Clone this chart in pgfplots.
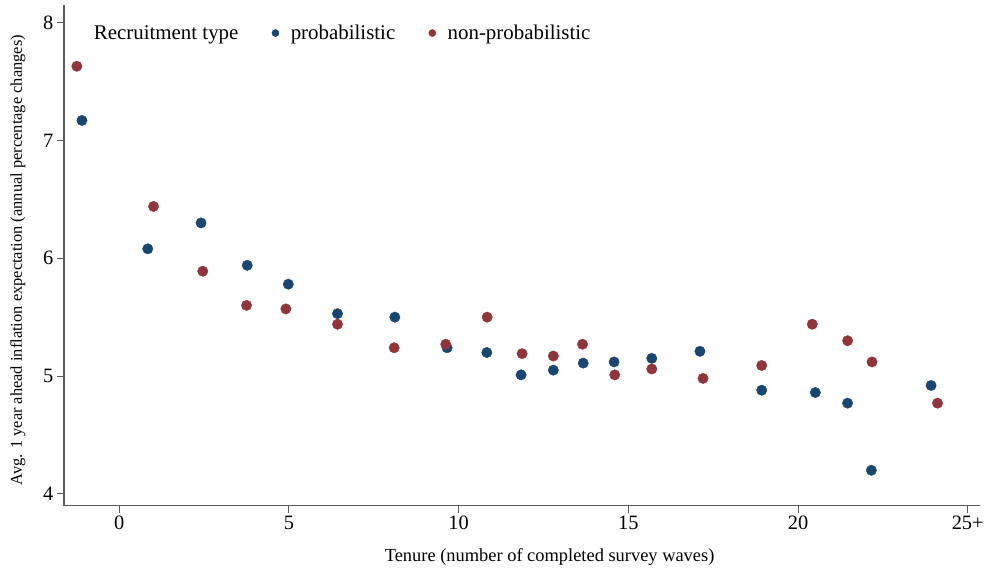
\documentclass[border=0pt]{standalone}
\usepackage{fontspec}
\setmainfont{Liberation Serif}
\usepackage{pgfplots}
\pgfplotsset{compat=1.18}
\definecolor{probblue}{HTML}{1A476F}
\definecolor{nonprobred}{HTML}{90353B}
\definecolor{axgray}{HTML}{5A5A5A}

% tenure (jittered), avg. 1y-ahead expectation
\begin{document}
\begin{tikzpicture}
\begin{axis}[
    scale only axis,
    width=917bp, height=501bp,
    xmin=-1.63, xmax=25.37,
    ymin=3.90, ymax=8.15,
    clip=false,
    axis x line*=bottom, axis y line*=left,
    axis line style={axgray, line width=1.1bp},
    tick align=outside,
    major tick length=7bp,
    tick style={axgray, line width=1bp},
    xtick={0,5,10,15,20,25},
    xticklabels={0,5,10,15,20,25+},
    ytick={4,5,6,7,8},
    /pgf/number format/assume math mode=true,
    ticklabel style={font=\fontsize{20.5}{22}\selectfont},
    xlabel={Tenure (number of completed survey waves)},
    ylabel={Avg. 1 year ahead inflation expectation (annual percentage changes)},
    xlabel style={font=\fontsize{18.5}{20}\selectfont,
        at={(axis description cs:0.53,-0.102)}, anchor=center},
    ylabel style={font=\fontsize{16.5}{18}\selectfont,
        at={(axis description cs:-0.0502,0.49)}, anchor=center},
    legend columns=3,
    legend style={draw=none, fill=none,
        at={(axis description cs:0.027,0.944)}, anchor=west,
        font=\fontsize{21}{23}\selectfont,
        /tikz/every even column/.append style={column sep=28bp}},
    legend image code/.code={
        \path[draw=none] (0cm,0cm) -- (0.72cm,0cm);
        \path[#1, draw=none, mark size=3.6bp] plot coordinates {(0.25cm,0cm)};},
]
\addlegendimage{empty legend}
\addlegendentry{Recruitment type}

\addplot[only marks, mark=*, mark size=5.2bp,
    mark options={fill=probblue, draw=probblue}] coordinates {
    (-1.10,7.17) (0.84,6.08) (2.41,6.30) (3.77,5.94) (4.98,5.78)
    (6.43,5.53) (8.12,5.50) (9.66,5.24) (10.83,5.20) (11.84,5.01)
    (12.79,5.05) (13.67,5.11) (14.58,5.12) (15.69,5.15) (17.11,5.21)
    (18.93,4.88) (20.51,4.86) (21.46,4.77) (22.16,4.20) (23.92,4.92)
};
\addlegendentry{probabilistic}

\addplot[only marks, mark=*, mark size=5.2bp,
    mark options={fill=nonprobred, draw=nonprobred}] coordinates {
    (-1.25,7.63) (1.01,6.44) (2.46,5.89) (3.75,5.60) (4.91,5.57)
    (6.43,5.44) (8.10,5.24) (9.62,5.27) (10.84,5.50) (11.87,5.19)
    (12.79,5.17) (13.65,5.27) (14.60,5.01) (15.69,5.06) (17.20,4.98)
    (18.93,5.09) (20.42,5.44) (21.46,5.30) (22.18,5.12) (24.11,4.77)
};
\addlegendentry{non-probabilistic}

% margins of the original figure
\path (axis description cs:0,0) ++(-64bp,-68bp);
\path (axis description cs:1,1) ++(6bp,5bp);
\end{axis}
\end{tikzpicture}
\end{document}
